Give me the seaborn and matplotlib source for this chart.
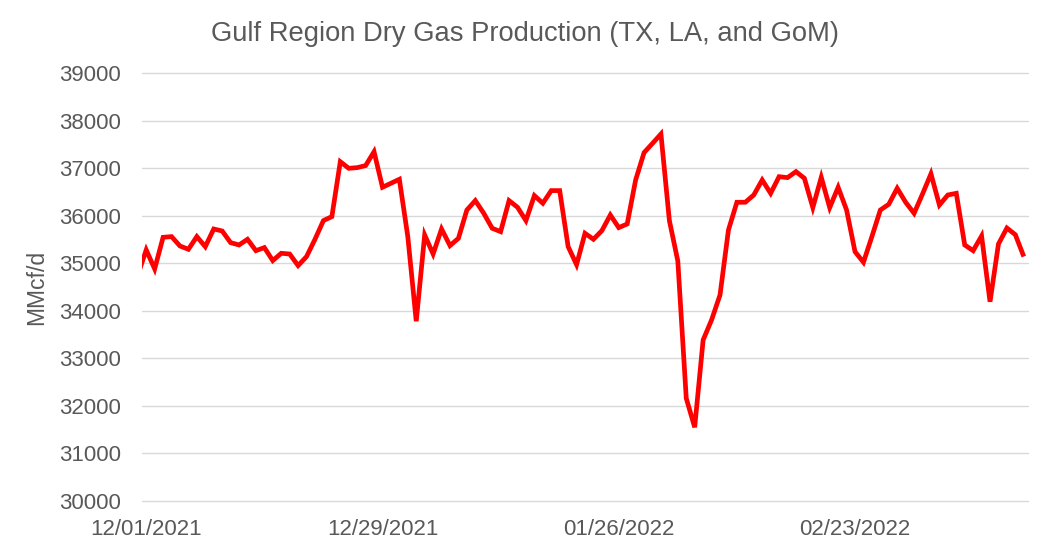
import matplotlib
matplotlib.use("Agg")
import matplotlib.pyplot as plt
import matplotlib.dates as mdates
import seaborn as sns
import pandas as pd
import numpy as np

# ---- data (MMcf/d), daily from 11/30/2021 to 03/15/2022 ----
start_date = "2021-11-30"
values = [
    34750, 35280, 34880, 35545, 35560, 35362, 35293, 35560, 35348, 35720,
    35678, 35433, 35384, 35503, 35264, 35329, 35055, 35209, 35194, 34950,
    35140, 35503, 35897, 35980, 37135, 36996, 37010, 37053, 37345, 36597,
    36681, 36765, 35560, 33780, 35594, 35194, 35720, 35370, 35524, 36119,
    36317, 36050, 35735, 35664, 36317, 36177, 35897, 36422, 36261, 36527,
    36527, 35350, 34970, 35629, 35503, 35685, 36014, 35749, 35825, 36750,
    37326, 37520, 37717, 35897, 35047, 32160, 31550, 33386, 33807, 34332,
    35699, 36282, 36282, 36435, 36750, 36470, 36820, 36800, 36926, 36786,
    36170, 36807, 36170, 36597, 36119, 35243, 35020, 35560, 36119, 36240,
    36576, 36282, 36050, 36456, 36880, 36224, 36435, 36470, 35384, 35264,
    35573, 34190, 35405, 35740, 35600, 35140,
]
dates = pd.date_range(start_date, periods=len(values), freq="D")
x_tick_labels = ["12/01/2021", "12/29/2021", "01/26/2022", "02/23/2022"]
y_ticks = [30000, 31000, 32000, 33000, 34000, 35000, 36000, 37000, 38000, 39000]

title = "Gulf Region Dry Gas Production (TX, LA, and GoM)"
y_label = "MMcf/d"

df = pd.DataFrame({"date": dates, "value": values})

sns.set_theme(style="white")
plt.rcParams["font.family"] = ["Liberation Sans", "DejaVu Sans"]

W, H = 1051, 556
fig = plt.figure(figsize=(W / 100, H / 100), dpi=100)
ax_l, ax_r, ax_t, ax_b = 142, 1028, 73, 501
ax = fig.add_axes([ax_l / W, 1 - ax_b / H, (ax_r - ax_l) / W, (ax_b - ax_t) / H])

gray = "#595959"
sns.lineplot(data=df, x="date", y="value", ax=ax, color="#FF0000",
             linewidth=3.4, solid_joinstyle="miter", solid_capstyle="butt")

first_cat = pd.Timestamp("2021-12-01")
last_cat = dates[-1]
ax.set_xlim(mdates.date2num(first_cat) - 0.5, mdates.date2num(last_cat) + 0.5)
ax.set_ylim(30000, 39000)

tick_dates = [pd.to_datetime(t, format="%m/%d/%Y") for t in x_tick_labels]
ax.set_xticks([mdates.date2num(d) for d in tick_dates])
ax.set_xticklabels(x_tick_labels)
ax.set_yticks(y_ticks)
ax.set_yticklabels([str(v) for v in y_ticks])

ax.grid(axis="y", color="#D9D9D9", linewidth=1.0)
ax.grid(axis="x", visible=False)
for gl in ax.get_ygridlines():
    gl.set_clip_on(False)
ax.set_axisbelow(True)
for s in ax.spines.values():
    s.set_visible(False)

ax.tick_params(axis="both", length=0, labelsize=16, labelcolor=gray)
ax.tick_params(axis="y", pad=15)
ax.tick_params(axis="x", pad=13)
ax.set_xlabel("")
ax.set_ylabel(y_label, fontsize=16.5, color=gray)
ax.yaxis.set_label_coords(-(ax_l - 48) / (ax_r - ax_l), 0.5)

fig.text(525 / W, 1 - 34 / H, title, ha="center", va="center",
         fontsize=19.7, color=gray)

fig.savefig("out.png", dpi=100, facecolor="white")
